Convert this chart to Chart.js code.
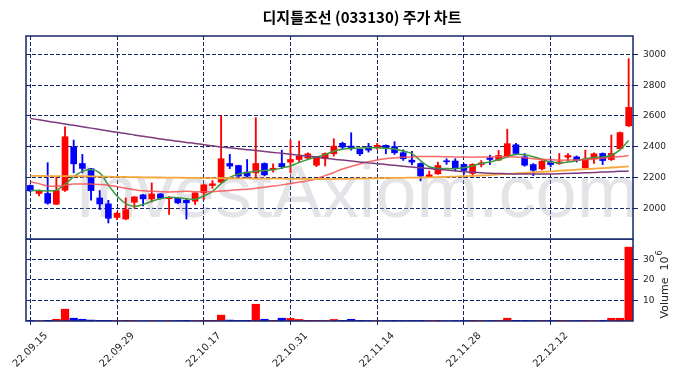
<!DOCTYPE html>
<html>
<head>
<meta charset="utf-8">
<script src="https://cdn.jsdelivr.net/npm/chart.js@4"></script>
<style>
  body { margin: 0; background: #fff; }
  #wrap { position: relative; width: 686px; height: 378px; }
  canvas { position: absolute; left: 0; }
</style>
</head>
<body>
<div id="wrap">
  <canvas id="price" width="686" height="240" style="top:0"></canvas>
  <canvas id="vol" width="686" height="139" style="top:239px"></canvas>
</div>
<script>
// 거래일
const dates = ['22.09.15','22.09.16','22.09.19','22.09.20','22.09.21','22.09.22','22.09.23','22.09.26','22.09.27','22.09.28',
  '22.09.29','22.09.30','22.10.04','22.10.05','22.10.06','22.10.07','22.10.11','22.10.12','22.10.13','22.10.14',
  '22.10.17','22.10.18','22.10.19','22.10.20','22.10.21','22.10.24','22.10.25','22.10.26','22.10.27','22.10.28',
  '22.10.31','22.11.01','22.11.02','22.11.03','22.11.04','22.11.07','22.11.08','22.11.09','22.11.10','22.11.11',
  '22.11.14','22.11.15','22.11.16','22.11.17','22.11.18','22.11.21','22.11.22','22.11.23','22.11.24','22.11.25',
  '22.11.28','22.11.29','22.11.30','22.12.01','22.12.02','22.12.05','22.12.06','22.12.07','22.12.08','22.12.09',
  '22.12.12','22.12.13','22.12.14','22.12.15','22.12.16','22.12.19','22.12.20','22.12.21','22.12.22','22.12.23'];

// 시가 / 고가 / 저가 / 종가
const opens  = [2148,2096,2096,2026,2117,2398,2291,2257,2067,2028, 1940,1930,2039,2087,2061,2093,2062,2065,2052,2046,
                2100,2148,2170,2291,2278,2235,2230,2291,2250,2291, 2300,2317,2326,2280,2322,2354,2422,2404,2383,2400,
                2393,2409,2400,2361,2313,2291,2204,2224,2307,2307, 2285,2226,2284,2328,2313,2339,2413,2334,2284,2256,
                2302,2291,2332,2334,2262,2321,2356,2317,2387,2536];
const highs  = [2152,2118,2296,2204,2530,2443,2350,2260,2115,2052, 1975,2067,2075,2090,2165,2095,2075,2070,2060,2100,
                2155,2180,2600,2350,2280,2317,2589,2295,2289,2378, 2443,2437,2360,2330,2360,2452,2430,2491,2385,2422,
                2422,2412,2433,2380,2370,2295,2241,2300,2322,2322, 2290,2290,2310,2345,2376,2514,2422,2356,2290,2310,
                2321,2356,2356,2340,2378,2360,2360,2476,2495,2973];
const lows   = [2108,2080,2026,2024,2109,2230,2230,2052,1991,1904, 1925,1925,2000,2015,2040,2060,1960,2030,1930,2024,
                2057,2130,2165,2257,2200,2200,2204,2210,2235,2257, 2230,2296,2320,2270,2275,2339,2387,2378,2343,2365,
                2383,2354,2350,2311,2283,2178,2200,2220,2285,2241, 2220,2209,2269,2284,2310,2330,2350,2273,2212,2250,
                2269,2285,2306,2300,2260,2291,2284,2310,2385,2530];
const closes = [2113,2115,2033,2115,2465,2289,2259,2115,2028,1935, 1968,1991,2074,2061,2093,2065,2070,2035,2035,2100,
                2152,2159,2322,2274,2209,2209,2291,2217,2260,2270, 2317,2339,2354,2325,2356,2404,2398,2387,2354,2378,
                2409,2389,2361,2322,2300,2209,2217,2278,2302,2263, 2246,2285,2295,2317,2343,2420,2356,2280,2247,2306,
                2284,2302,2343,2310,2321,2354,2310,2356,2492,2656];

// 거래량 (10^6)
const volumes = [0.4,0.3,0.5,1.0,5.9,1.5,1.0,0.6,0.5,0.5, 0.4,0.5,0.4,0.3,0.4,0.3,0.4,0.4,0.5,0.4,
                 0.5,0.5,3.0,0.6,0.5,0.5,8.3,1.0,0.5,1.5, 1.4,0.9,0.5,0.5,0.4,0.9,0.5,1.0,0.5,0.4,
                 0.4,0.4,0.5,0.4,0.4,0.5,0.4,0.5,0.3,0.4, 0.4,0.5,0.4,0.4,0.5,1.5,0.5,0.5,0.4,0.5,
                 0.4,0.5,0.4,0.4,0.5,0.4,0.5,1.5,1.5,36.0];

// 이동평균선
const ma5   = [2115,2115,2113,2118,2155,2205,2240,2252,2230,2150, 2080,2030,2012,2025,2045,2062,2072,2068,2062,2058,
               2080,2110,2160,2200,2222,2232,2240,2245,2250,2262, 2275,2297,2317,2333,2350,2370,2383,2389,2392,2393,
               2393,2390,2385,2372,2355,2310,2270,2260,2258,2258, 2263,2275,2292,2300,2315,2335,2350,2348,2335,2318,
               2300,2295,2300,2310,2322,2330,2334,2345,2380,2440];
const ma20  = [2172,2160,2145,2143,2150,2157,2158,2157,2155,2150, 2140,2130,2120,2113,2110,2108,2106,2108,2110,2108,
               2107,2108,2112,2116,2120,2124,2130,2137,2144,2152, 2161,2170,2178,2192,2212,2232,2255,2272,2288,2302,
               2314,2322,2327,2331,2334,2336,2336,2336,2335,2334, 2333,2332,2333,2334,2335,2335,2333,2328,2322,2318,
               2315,2313,2313,2314,2316,2320,2325,2330,2336,2343];
const ma60  = [2210,2210,2209,2209,2209,2208,2208,2207,2206,2205, 2204,2203,2202,2201,2200,2200,2199,2199,2198,2197,
               2196,2196,2195,2195,2194,2194,2193,2193,2192,2192, 2191,2191,2190,2190,2190,2190,2191,2192,2193,2194,
               2195,2196,2197,2198,2199,2200,2201,2202,2204,2206, 2208,2210,2213,2216,2220,2223,2227,2230,2234,2237,
               2240,2244,2247,2251,2254,2258,2261,2265,2268,2272];
const ma120 = [2584,2575,2566,2557,2548,2539,2530,2521,2512,2503, 2494,2486,2477,2468,2460,2451,2443,2435,2428,2421,
               2413,2406,2399,2393,2387,2381,2375,2369,2363,2357, 2351,2345,2339,2333,2325,2319,2313,2307,2301,2295,
               2290,2284,2279,2273,2268,2263,2258,2253,2248,2243, 2238,2234,2231,2228,2226,2224,2223,2222,2222,2222,
               2223,2224,2226,2228,2230,2232,2235,2237,2240,2242];

// 눈금
const priceTicks = [2000, 2200, 2400, 2600, 2800, 3000];
const volumeTicks = [10, 20, 30];

const UP = '#ff0000';
const DOWN = '#0000ff';
const NAVY = '#14266a';
const candleColors = opens.map((o, i) => closes[i] >= o ? UP : DOWN);

const yFont = { family: 'DejaVu Sans', size: 9 };

// 매 10 거래일마다 눈금
function everyTenth(scale) {
  scale.ticks = scale.ticks.filter(t => t.value % 10 === 0);
}

// 축 여백 고정
function fixY(s) {
  s.width = 53;
  s.paddingTop = 0;
  s.paddingBottom = 0;
}

// 패널 테두리
const boxPlugin = {
  id: 'box',
  afterDraw(chart) {
    const a = chart.chartArea;
    const ctx = chart.ctx;
    ctx.save();
    ctx.strokeStyle = NAVY;
    ctx.lineWidth = 1.5;
    ctx.strokeRect(a.left, a.top, a.right - a.left, a.bottom - a.top);
    ctx.restore();
  }
};

// 제목 + 워터마크
const pricePlugin = {
  id: 'priceDecor',
  beforeDatasetsDraw(chart) {
    const a = chart.chartArea;
    const ctx = chart.ctx;
    ctx.save();
    ctx.beginPath();
    ctx.rect(a.left, a.top, a.right - a.left, a.bottom - a.top);
    ctx.clip();
    ctx.font = '74px "Liberation Sans"';
    ctx.fillStyle = 'rgba(175,175,190,0.35)';
    ctx.textBaseline = 'alphabetic';
    ctx.textAlign = 'left';
    ctx.fillText('InvestAxiom.com', 75, 217);
    ctx.restore();
  },
  afterDraw(chart) {
    const ctx = chart.ctx;
    ctx.save();
    ctx.font = 'bold 15px "Noto Sans CJK KR"';
    ctx.fillStyle = '#000';
    ctx.textAlign = 'center';
    ctx.textBaseline = 'middle';
    ctx.fillText('디지틀조선 (033130) 주가 차트', 362, 17);
    ctx.restore();
  }
};

// 거래량 축 제목 + 날짜 라벨 (눈금 중심 정렬, 45도)
const volDecorPlugin = {
  id: 'volDecor',
  afterDraw(chart) {
    const ctx = chart.ctx;
    const xs = chart.scales.x;
    const bottom = chart.chartArea.bottom;
    ctx.save();
    ctx.fillStyle = '#222';
    ctx.font = '10px "DejaVu Sans"';
    ctx.textAlign = 'center';
    ctx.textBaseline = 'middle';
    xs.ticks.forEach(t => {
      ctx.save();
      ctx.translate(xs.getPixelForValue(t.value), bottom + 29);
      ctx.rotate(-Math.PI / 4);
      ctx.fillText(dates[t.value], 0, 0);
      ctx.restore();
    });
    ctx.restore();

    ctx.save();
    ctx.translate(665, 46);
    ctx.rotate(-Math.PI / 2);
    ctx.fillStyle = '#222';
    ctx.textBaseline = 'middle';
    ctx.textAlign = 'left';
    ctx.font = '11px "DejaVu Sans"';
    const t1 = 'Volume  10';
    const w1 = ctx.measureText(t1).width;
    ctx.font = '8px "DejaVu Sans"';
    const w2 = ctx.measureText('6').width;
    const x0 = -(w1 + w2) / 2;
    ctx.font = '11px "DejaVu Sans"';
    ctx.fillText(t1, x0, 0);
    ctx.font = '8px "DejaVu Sans"';
    ctx.fillText('6', x0 + w1 + 1, -5);
    ctx.restore();
  }
};

function maLine(data, color, width) {
  return {
    type: 'line',
    data: data,
    borderColor: color,
    borderWidth: width,
    pointRadius: 0,
    tension: 0.4,
    order: 1
  };
}

new Chart(document.getElementById('price'), {
  type: 'bar',
  data: {
    labels: dates,
    datasets: [
      maLine(ma120, '#7b3a7b', 1.5),
      maLine(ma60, '#f5a83c', 1.8),
      maLine(ma20, 'rgba(245,80,80,0.85)', 1.5),
      maLine(ma5, '#3d9a3d', 1.5),
      {
        data: lows.map((l, i) => [l, highs[i]]),
        backgroundColor: candleColors,
        barThickness: 1.2,
        grouped: false,
        order: 3
      },
      {
        data: opens.map((o, i) => [o, closes[i]]),
        backgroundColor: candleColors,
        barThickness: 6,
        minBarLength: 1,
        grouped: false,
        order: 2
      }
    ]
  },
  options: {
    responsive: false,
    animation: false,
    layout: { padding: { left: 26, top: 36, right: 0, bottom: 1 } },
    plugins: { legend: { display: false }, tooltip: { enabled: false } },
    scales: {
      x: {
        offset: true,
        afterBuildTicks: everyTenth,
        afterFit: s => { s.height = 0; s.paddingLeft = 0; s.paddingRight = 0; },
        ticks: { display: false },
        grid: { offset: false, color: NAVY, drawTicks: false, lineWidth: 1 },
        border: { display: false, dash: [4, 2] }
      },
      y: {
        position: 'right',
        min: 1800,
        max: 3120,
        afterBuildTicks: s => { s.ticks = priceTicks.map(v => ({ value: v })); },
        afterFit: fixY,
        ticks: { font: yFont, color: '#222', padding: 5, callback: v => String(v) },
        grid: { color: NAVY, tickLength: 5, tickColor: NAVY, lineWidth: 1 },
        border: { display: false, dash: [4, 2] }
      }
    }
  },
  plugins: [pricePlugin, boxPlugin]
});

new Chart(document.getElementById('vol'), {
  type: 'bar',
  data: {
    labels: dates,
    datasets: [{
      data: volumes,
      backgroundColor: candleColors,
      barPercentage: 0.95,
      categoryPercentage: 1
    }]
  },
  options: {
    responsive: false,
    animation: false,
    layout: { padding: { left: 26, top: 0, right: 0, bottom: 0 } },
    plugins: { legend: { display: false }, tooltip: { enabled: false } },
    scales: {
      x: {
        offset: true,
        afterBuildTicks: everyTenth,
        afterFit: s => { s.height = 57; s.paddingLeft = 0; s.paddingRight = 0; },
        ticks: { display: false },
        grid: { offset: false, color: NAVY, tickLength: 4, tickColor: NAVY, lineWidth: 1 },
        border: { display: false, dash: [4, 2] }
      },
      y: {
        position: 'right',
        min: 0,
        max: 39.8,
        afterBuildTicks: s => { s.ticks = volumeTicks.map(v => ({ value: v })); },
        afterFit: fixY,
        ticks: { font: yFont, color: '#222', padding: 5, callback: v => String(v) },
        grid: { color: NAVY, tickLength: 5, tickColor: NAVY, lineWidth: 1 },
        border: { display: false, dash: [4, 2] }
      }
    }
  },
  plugins: [boxPlugin, volDecorPlugin]
});
</script>
</body>
</html>
